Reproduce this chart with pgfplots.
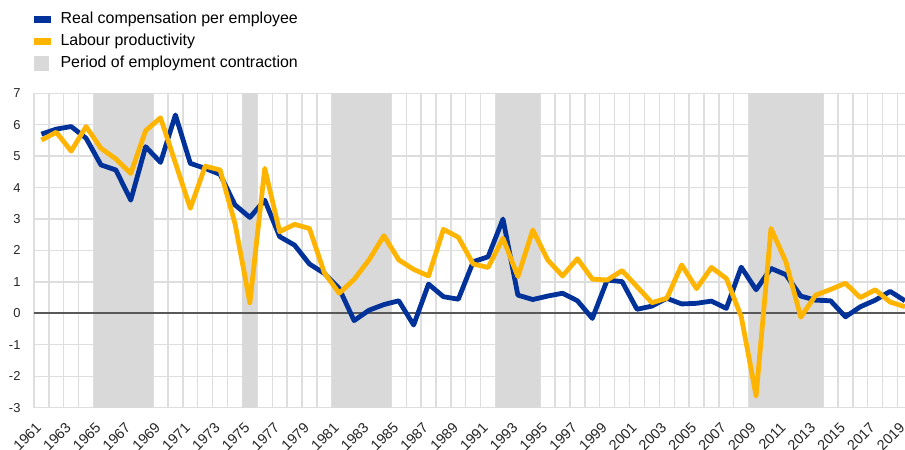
\documentclass[border=0pt]{standalone}
\usepackage{fontspec}
\setmainfont{Liberation Sans}
\usepackage{pgfplots}
\usepackage{pgfplotstable}
\pgfplotsset{compat=1.18}

\definecolor{ecbblue}{HTML}{003299}
\definecolor{ecbyellow}{HTML}{FFB400}
\definecolor{contraction}{HTML}{D9D9D9}
\definecolor{gridc}{HTML}{DEDEDE}
\definecolor{zeroc}{HTML}{595959}

% idx = year - 1961; comp = real compensation per employee, prod = labour productivity (%)
\pgfplotstableread{
idx year comp prod
0  1961 5.70 5.51
1  1962 5.86 5.76
2  1963 5.94 5.16
3  1964 5.57 5.94
4  1965 4.72 5.25
5  1966 4.56 4.91
6  1967 3.60 4.45
7  1968 5.30 5.81
8  1969 4.80 6.22
9  1970 6.31 4.78
10 1971 4.77 3.34
11 1972 4.61 4.68
12 1973 4.42 4.56
13 1974 3.45 2.86
14 1975 3.05 0.34
15 1976 3.60 4.61
16 1977 2.44 2.60
17 1978 2.17 2.83
18 1979 1.57 2.70
19 1980 1.27 1.29
20 1981 0.79 0.64
21 1982 -0.23 1.08
22 1983 0.10 1.70
23 1984 0.28 2.47
24 1985 0.40 1.70
25 1986 -0.37 1.40
26 1987 0.93 1.19
27 1988 0.53 2.67
28 1989 0.45 2.42
29 1990 1.64 1.57
30 1991 1.80 1.46
31 1992 3.00 2.39
32 1993 0.58 1.17
33 1994 0.44 2.65
34 1995 0.55 1.70
35 1996 0.64 1.19
36 1997 0.40 1.74
37 1998 -0.16 1.09
38 1999 1.06 1.06
39 2000 1.01 1.36
40 2001 0.13 0.85
41 2002 0.23 0.34
42 2003 0.48 0.48
43 2004 0.30 1.54
44 2005 0.32 0.79
45 2006 0.39 1.46
46 2007 0.16 1.11
47 2008 1.47 -0.10
48 2009 0.75 -2.62
49 2010 1.43 2.70
50 2011 1.23 1.64
51 2012 0.55 -0.12
52 2013 0.42 0.58
53 2014 0.40 0.76
54 2015 -0.11 0.96
55 2016 0.21 0.50
56 2017 0.42 0.75
57 2018 0.70 0.36
58 2019 0.40 0.21
}\datatable

\begin{document}
\begin{tikzpicture}
\begin{axis}[
  scale only axis,
  width=871.65bp, height=314.7bp,
  xmin=-0.5, xmax=58, ymin=-3, ymax=7,
  axis line style={draw=none},
  major tick length=0pt, minor tick length=0pt,
  xtick={0,2,...,58},
  xticklabels={1961,1963,1965,1967,1969,1971,1973,1975,1977,1979,1981,1983,1985,1987,1989,1991,1993,1995,1997,1999,2001,2003,2005,2007,2009,2011,2013,2015,2017,2019},
  minor xtick={-0.5,0.5,...,57.6},
  xminorgrids, ymajorgrids,
  major grid style={draw=gridc, line width=1.3bp},
  minor grid style={draw=gridc, line width=1.3bp},
  ytick={-3,-2,-1,0,1,2,3,4,5,6,7},
  yticklabels={-3,-2,-1,0,1,2,3,4,5,6,7},
  tick label style={font=\fontsize{13}{15}\selectfont, text=black!85},
  yticklabel style={xshift=-10bp},
  xticklabel style={font=\fontsize{14.5}{16}\selectfont,
    xshift=-6.5bp, yshift=-9bp, rotate=45, anchor=north east},
  legend style={at={(0,1)}, anchor=south west, yshift=21bp,
    draw=none, fill=none, inner sep=0pt, row sep=5bp,
    font=\fontsize{16}{18}\selectfont,
    nodes={inner sep=1bp, text height=11.5bp, text depth=3.5bp}},
  legend cell align=left,
]
% legend swatches
\addlegendimage{legend image code/.code={\fill[ecbblue] (0bp,-3bp) rectangle (16bp,3bp); \path (25bp,0bp);}}
\addlegendentry{Real compensation per employee}
\addlegendimage{legend image code/.code={\fill[ecbyellow] (0bp,-3bp) rectangle (16bp,3bp); \path (25bp,0bp);}}
\addlegendentry{Labour productivity}
\addlegendimage{legend image code/.code={\fill[contraction] (0bp,-7bp) rectangle (14bp,7bp); \path (25bp,0bp);}}
\addlegendentry{Period of employment contraction}

% periods of employment contraction
\addplot[fill=contraction, draw=none, forget plot] coordinates {(3.5,-3) (3.5,7) (7.5,7) (7.5,-3)} -- cycle;
\addplot[fill=contraction, draw=none, forget plot] coordinates {(13.5,-3) (13.5,7) (14.5,7) (14.5,-3)} -- cycle;
\addplot[fill=contraction, draw=none, forget plot] coordinates {(19.5,-3) (19.5,7) (23.5,7) (23.5,-3)} -- cycle;
\addplot[fill=contraction, draw=none, forget plot] coordinates {(30.5,-3) (30.5,7) (33.5,7) (33.5,-3)} -- cycle;
\addplot[fill=contraction, draw=none, forget plot] coordinates {(47.5,-3) (47.5,7) (52.5,7) (52.5,-3)} -- cycle;

% zero line
\addplot[zeroc, line width=1.8bp, forget plot] coordinates {(-0.5,0) (58,0)};

\addplot[ecbblue, line width=4.8bp, line join=round, forget plot] table[x=idx, y=comp] {\datatable};
\addplot[ecbyellow, line width=4.8bp, line join=round, forget plot] table[x=idx, y=prod] {\datatable};

\coordinate (BL) at (rel axis cs:0,0);
\coordinate (TR) at (rel axis cs:1,1);
\end{axis}
\pgfresetboundingbox
\path[use as bounding box] ([xshift=-34bp,yshift=-42bp]BL) rectangle ([yshift=93.3bp]TR);
\end{tikzpicture}
\end{document}
